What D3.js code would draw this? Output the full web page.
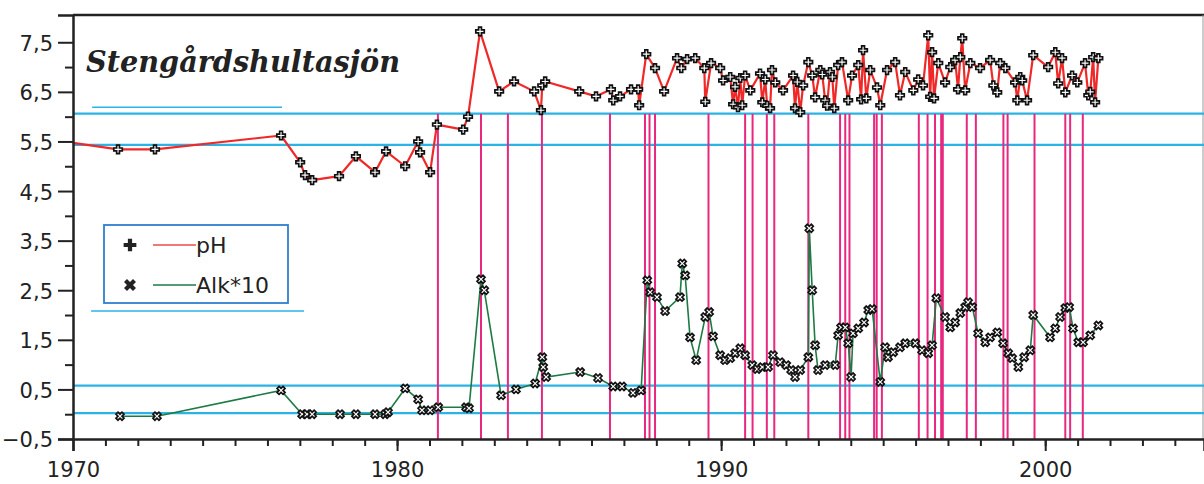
<!DOCTYPE html>
<html>
<head>
<meta charset="utf-8">
<script src="https://cdn.jsdelivr.net/npm/d3@7"></script>
<style>
  html, body { margin: 0; padding: 0; background: #fff; }
  svg { display: block; }
</style>
</head>
<body>
<svg id="chart" width="1204" height="484"></svg>
<script>
// Stengårdshultasjön: pH and alkalinity (x10), with liming dates

const lakeName = "Stengårdshultasjön";

// pH series (decimal year, value)
const phYears = [
  1970.00, 1971.39, 1972.53, 1976.42, 1977.01, 1977.16, 1977.38, 1978.21, 1978.73, 1979.32,
  1979.66, 1980.25, 1980.65, 1980.71, 1981.02, 1981.23, 1982.04, 1982.19, 1982.56, 1983.15,
  1983.61, 1984.23, 1984.44, 1984.48, 1984.57, 1985.62, 1986.14, 1986.60, 1986.67, 1986.88,
  1987.22, 1987.44, 1987.47, 1987.69, 1987.96, 1988.24, 1988.64, 1988.77, 1988.95, 1989.20,
  1989.48, 1989.51, 1989.69, 1989.97, 1990.06, 1990.28, 1990.37, 1990.43, 1990.52, 1990.59,
  1990.65, 1990.74, 1990.90, 1991.20, 1991.27, 1991.36, 1991.42, 1991.51, 1991.57, 1991.67,
  1991.91, 1992.22, 1992.28, 1992.35, 1992.44, 1992.53, 1992.69, 1992.81, 1992.90, 1993.06,
  1993.12, 1993.21, 1993.27, 1993.36, 1993.43, 1993.49, 1993.61, 1993.73, 1993.92, 1994.04,
  1994.23, 1994.32, 1994.38, 1994.48, 1994.60, 1994.81, 1994.91, 1995.12, 1995.37, 1995.52,
  1995.68, 1995.93, 1996.08, 1996.23, 1996.39, 1996.45, 1996.51, 1996.57, 1996.70, 1996.91,
  1997.07, 1997.22, 1997.31, 1997.38, 1997.44, 1997.53, 1997.69, 1997.99, 1998.30, 1998.40,
  1998.52, 1998.61, 1998.77, 1999.07, 1999.14, 1999.23, 1999.29, 1999.44, 1999.63, 2000.09,
  2000.31, 2000.40, 2000.52, 2000.62, 2000.83, 2000.99, 2001.23, 2001.33, 2001.39, 2001.48,
  2001.54, 2001.64
];
const phValues = [
  5.47, 5.34, 5.34, 5.62, 5.08, 4.82, 4.72, 4.80, 5.20, 4.88,
  5.30, 5.00, 5.50, 5.28, 4.88, 5.84, 5.74, 6.00, 7.72, 6.51,
  6.71, 6.51, 6.13, 6.63, 6.71, 6.51, 6.41, 6.55, 6.33, 6.41,
  6.55, 6.55, 6.23, 7.26, 6.98, 6.51, 7.18, 6.98, 7.16, 7.18,
  6.98, 6.30, 7.08, 6.98, 6.73, 6.80, 6.25, 6.60, 6.19, 6.78,
  6.23, 6.83, 6.53, 6.87, 6.29, 6.75, 6.22, 6.17, 6.94, 6.69,
  6.53, 6.83, 6.17, 6.70, 6.09, 6.63, 7.10, 6.83, 6.39, 6.94,
  6.85, 6.33, 6.22, 6.90, 6.80, 6.17, 7.04, 7.10, 6.33, 6.83,
  7.04, 6.35, 7.34, 6.37, 6.94, 6.59, 6.23, 6.94, 7.10, 6.43,
  6.90, 6.53, 6.75, 6.63, 7.64, 6.40, 7.30, 6.37, 7.08, 6.69,
  7.00, 7.14, 6.55, 7.20, 7.58, 6.53, 7.08, 6.98, 7.14, 6.63,
  6.49, 7.08, 6.98, 6.69, 6.33, 6.80, 6.73, 6.33, 7.24, 7.00,
  7.30, 6.67, 7.18, 6.49, 6.83, 6.69, 7.08, 6.43, 6.50, 7.20,
  6.29, 7.18
];

// Alkalinity x10 series (decimal year, value)
const alkYears = [
  1971.45, 1972.59, 1976.42, 1977.07, 1977.22, 1977.38, 1978.24, 1978.73, 1979.32, 1979.63,
  1979.72, 1980.25, 1980.65, 1980.77, 1981.02, 1981.27, 1982.13, 1982.22, 1982.59, 1982.69,
  1983.21, 1983.67, 1984.26, 1984.48, 1984.51, 1984.60, 1985.65, 1986.20, 1986.67, 1986.94,
  1987.28, 1987.53, 1987.72, 1987.81, 1988.02, 1988.27, 1988.73, 1988.80, 1988.89, 1989.04,
  1989.23, 1989.51, 1989.63, 1989.75, 1989.97, 1990.12, 1990.28, 1990.43, 1990.59, 1990.74,
  1990.96, 1991.11, 1991.27, 1991.45, 1991.60, 1991.82, 1992.01, 1992.16, 1992.28, 1992.44,
  1992.69, 1992.72, 1992.81, 1992.90, 1992.99, 1993.21, 1993.52, 1993.61, 1993.70, 1993.83,
  1993.92, 1994.01, 1994.07, 1994.23, 1994.41, 1994.54, 1994.66, 1994.91, 1995.06, 1995.15,
  1995.31, 1995.52, 1995.68, 1995.99, 1996.20, 1996.39, 1996.51, 1996.64, 1996.91, 1997.07,
  1997.22, 1997.38, 1997.53, 1997.62, 1997.75, 1997.93, 1998.15, 1998.30, 1998.52, 1998.70,
  1998.86, 1998.98, 1999.17, 1999.35, 1999.54, 1999.63, 2000.15, 2000.31, 2000.46, 2000.62,
  2000.74, 2000.86, 2001.02, 2001.17, 2001.39, 2001.64
];
const alkValues = [
  -0.04, -0.04, 0.48, 0.00, 0.00, 0.00, 0.00, 0.00, 0.00, 0.00,
  0.04, 0.52, 0.30, 0.08, 0.08, 0.14, 0.14, 0.12, 2.72, 2.50,
  0.38, 0.50, 0.62, 1.15, 0.95, 0.75, 0.85, 0.73, 0.56, 0.56,
  0.43, 0.48, 2.70, 2.46, 2.36, 2.08, 2.36, 3.04, 2.80, 1.55,
  1.09, 1.96, 2.06, 1.57, 1.19, 1.09, 1.13, 1.23, 1.33, 1.19,
  0.99, 0.91, 0.95, 0.95, 1.19, 1.05, 0.99, 0.89, 0.75, 0.89,
  1.15, 3.75, 2.50, 1.39, 0.89, 0.99, 0.99, 1.59, 1.75, 1.75,
  1.43, 0.75, 1.63, 1.73, 1.85, 2.10, 2.12, 0.65, 1.35, 1.15,
  1.25, 1.35, 1.43, 1.43, 1.29, 1.23, 1.39, 2.34, 1.96, 1.75,
  1.85, 2.04, 2.16, 2.26, 2.16, 1.63, 1.45, 1.55, 1.65, 1.43,
  1.23, 1.13, 0.95, 1.15, 1.29, 2.00, 1.55, 1.73, 1.96, 2.14,
  2.16, 1.73, 1.45, 1.45, 1.59, 1.79
];

// Liming dates (vertical markers)
const limingYears = [
  1981.26, 1982.59, 1983.42, 1984.47, 1986.57, 1987.65, 1987.79, 1987.96, 1989.61,
  1990.74, 1990.97, 1991.41, 1991.64, 1992.69, 1993.67, 1993.83, 1993.96, 1994.72,
  1994.80, 1994.96, 1996.10, 1996.37, 1996.60, 1996.79, 1996.84, 1997.58, 1997.86,
  1998.71, 1998.84, 1999.67, 2000.62, 2000.77, 2001.16
];

// Reference levels (full width) and short level marks
const refLevels = [6.06, 5.43, 0.575, 0.02];
const shortLevelValues = [6.19, 2.08];
const shortLevelStarts = [1970.59, 1970.56];
const shortLevelEnds = [1976.45, 1977.13];

// Axis ticks
const yTickValues = [-0.5, 0.5, 1.5, 2.5, 3.5, 4.5, 5.5, 6.5, 7.5];
const yMinorTicks = [0, 1, 2, 3, 4, 5, 6, 7];
const xTickLabels = [1970, 1980, 1990, 2000];
const xMinorTicks = d3.range(1971, 2005);

// Legend
const seriesNames = ["pH", "Alk*10"];

const svg = d3.select("#chart");
const plotLeft = 73, plotRight = 1204, plotTop = 15, plotBottom = 439;

const x = d3.scaleLinear().domain([1970, 2004.9]).range([plotLeft, plotRight]);
const y = d3.scaleLinear().domain([-0.5, 8.05]).range([plotBottom, plotTop]);

const locale = d3.formatLocale({ decimal: ",", thousands: " ", grouping: [3], currency: ["", " kr"] });
const fmt = locale.format(".1f");

const pH = phYears.map((t, i) => ({ t, v: phValues[i] }));
const alk = alkYears.map((t, i) => ({ t, v: alkValues[i] }));

const cyan = "#2bb3e6";
const magenta = "#e8287f";

// frame
svg.append("line").attr("x1", plotLeft).attr("x2", plotRight).attr("y1", plotTop).attr("y2", plotTop)
  .attr("stroke", "#222").attr("stroke-width", 2.5);
svg.append("line").attr("x1", plotRight - 1).attr("x2", plotRight - 1).attr("y1", plotTop).attr("y2", plotBottom)
  .attr("stroke", "#999").attr("stroke-width", 1);

// reference levels
svg.append("g").selectAll("line").data(refLevels).join("line")
  .attr("x1", plotLeft).attr("x2", plotRight)
  .attr("y1", d => y(d)).attr("y2", d => y(d))
  .attr("stroke", cyan).attr("stroke-width", 2.2);

svg.append("g").selectAll("line").data(shortLevelValues).join("line")
  .attr("x1", (d, i) => x(shortLevelStarts[i])).attr("x2", (d, i) => x(shortLevelEnds[i]))
  .attr("y1", d => y(d)).attr("y2", d => y(d))
  .attr("stroke", cyan).attr("stroke-width", 1.5);

// liming markers
svg.append("g").selectAll("line").data(limingYears).join("line")
  .attr("x1", d => x(d)).attr("x2", d => x(d))
  .attr("y1", y(refLevels[0])).attr("y2", plotBottom)
  .attr("stroke", magenta).attr("stroke-width", 2);

// series lines
const line = d3.line().x(d => x(d.t)).y(d => y(d.v));
svg.append("path").datum(pH).attr("d", line)
  .attr("fill", "none").attr("stroke", "#f02828").attr("stroke-width", 2.2)
  .attr("stroke-linejoin", "round");
svg.append("path").datum(alk).attr("d", line)
  .attr("fill", "none").attr("stroke", "#1d7a44").attr("stroke-width", 1.6);

// point markers
const plus = d3.symbol().type(d3.symbolCross).size(40);
svg.append("g").selectAll("path").data(pH.filter(d => d.t > 1970)).join("path")
  .attr("d", plus)
  .attr("transform", d => `translate(${x(d.t)},${y(d.v)})`)
  .attr("fill", "#fff").attr("stroke", "#111").attr("stroke-width", 1.7);

svg.append("g").selectAll("path").data(alk).join("path")
  .attr("d", plus)
  .attr("transform", d => `translate(${x(d.t)},${y(d.v)}) rotate(45)`)
  .attr("fill", "#fff").attr("stroke", "#111").attr("stroke-width", 1.7);

// y axis
const yAxis = svg.append("g").attr("transform", `translate(${plotLeft},0)`)
  .call(d3.axisLeft(y).tickValues(yTickValues).tickFormat(fmt).tickSize(15).tickPadding(5));
svg.append("g").attr("transform", `translate(${plotLeft},0)`)
  .call(d3.axisLeft(y).tickValues(yMinorTicks).tickFormat("").tickSize(8))
  .select(".domain").remove();

// x axis
const xAxis = svg.append("g").attr("transform", `translate(0,${plotBottom})`)
  .call(d3.axisBottom(x).tickValues(xTickLabels).tickFormat(d3.format("d")).tickSize(12).tickPadding(10));
svg.append("g").attr("transform", `translate(0,${plotBottom})`)
  .call(d3.axisBottom(x).tickValues(xMinorTicks).tickFormat("").tickSize(7))
  .select(".domain").remove();

svg.selectAll(".domain").attr("stroke", "#222").attr("stroke-width", 2.5);
svg.selectAll(".tick line").attr("stroke", "#222").attr("stroke-width", 2);
svg.selectAll(".tick text")
  .attr("font-family", "DejaVu Sans, sans-serif").attr("font-size", 21).attr("fill", "#222");
yAxis.selectAll(".tick text").attr("dy", "0.38em");
xAxis.selectAll(".tick text").attr("dy", "0.75em");

// title
svg.append("text")
  .attr("x", 86).attr("y", 72)
  .attr("font-family", "DejaVu Serif, serif").attr("font-weight", "bold").attr("font-style", "italic")
  .attr("font-size", 29).attr("fill", "#222")
  .attr("textLength", 314).attr("lengthAdjust", "spacingAndGlyphs")
  .text(lakeName);

// legend
const lg = svg.append("g");
lg.append("rect").attr("x", 104).attr("y", 225).attr("width", 184).attr("height", 78)
  .attr("fill", "#fff").attr("stroke", "#2f7fcf").attr("stroke-width", 1.8);
const legendRows = [
  { name: seriesNames[0], color: "#ee4a4a", rot: 0, cy: 245 },
  { name: seriesNames[1], color: "#1d7a44", rot: 45, cy: 285 }
];
const big = d3.symbol().type(d3.symbolCross).size(90);
legendRows.forEach(r => {
  lg.append("path").attr("d", big)
    .attr("transform", `translate(130,${r.cy}) rotate(${r.rot})`)
    .attr("fill", "#222");
  lg.append("line").attr("x1", 153).attr("x2", 196).attr("y1", r.cy).attr("y2", r.cy)
    .attr("stroke", r.color).attr("stroke-width", 1.5);
  lg.append("text").attr("x", 196).attr("y", r.cy + 8)
    .attr("font-family", "DejaVu Sans, sans-serif").attr("font-size", 22).attr("fill", "#222")
    .text(r.name);
});
</script>
</body>
</html>
